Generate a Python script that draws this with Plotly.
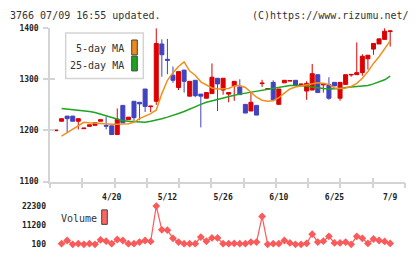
import plotly.graph_objects as go

# ---- data ----
opens = [1199.5, 1218, 1228, 1228, 1218, 1203.5, 1208, 1210, 1218, 1209.5,
         1209, 1192, 1249, 1221, 1257, 1255, 1281, 1246.5, 1257, 1369,
         1339, 1308, 1284, 1318, 1267, 1298, 1271, 1263, 1272, 1302,
         1279, 1271, 1287, 1285, 1251, 1238, 1249, 1291.5, 1280.5, 1294,
         1251, 1293, 1296.5, 1298, 1289.5, 1277, 1279, 1309, 1289, 1290,
         1294, 1263, 1290, 1308.5, 1309, 1313, 1340, 1359, 1369, 1378,
         1393.5]
closes = [1200.5, 1223, 1223, 1218, 1223, 1204.5, 1211, 1215, 1221, 1208.5,
          1192, 1222, 1215, 1226, 1225, 1252, 1247, 1247.5, 1370, 1348,
          1337, 1298, 1315, 1296, 1296, 1268, 1267, 1274, 1304, 1291,
          1302, 1274, 1296, 1270, 1234, 1255, 1230, 1292.5, 1281.5, 1260,
          1281, 1298, 1297.5, 1289, 1290.5, 1292, 1311, 1274, 1292, 1263,
          1287, 1294, 1309, 1309.5, 1313, 1345, 1347, 1370, 1379, 1394,
          1394.5]
highs = [1200.5, 1223, 1228, 1228, 1223, 1204.5, 1211, 1215, 1221, 1227,
         1209, 1243, 1249, 1226, 1257, 1255, 1281, 1247.5, 1400, 1378,
         1379, 1325, 1315, 1318, 1296, 1298, 1271, 1274, 1331, 1302,
         1302, 1274, 1296, 1300, 1251, 1275, 1249, 1299, 1281.5, 1298,
         1281, 1298, 1297.5, 1298, 1290.5, 1296, 1330, 1309, 1292, 1304,
         1294, 1294, 1309, 1309.5, 1372, 1349, 1347, 1370, 1379, 1400,
         1394.5]
lows = [1199.5, 1218, 1196, 1218, 1202, 1203.5, 1208, 1210, 1218, 1202,
        1191, 1192, 1215, 1221, 1219, 1220, 1236, 1236, 1250, 1305,
        1310, 1293, 1279, 1274, 1267, 1265, 1206, 1263, 1272, 1238,
        1270, 1255, 1258, 1270, 1234, 1238, 1230, 1285, 1280.5, 1260,
        1251, 1293, 1296.5, 1289, 1289.5, 1260, 1279, 1274, 1274, 1260,
        1287, 1258, 1290, 1305, 1309, 1307, 1319, 1348, 1369, 1378,
        1364]
ma5 = [None, 1189, 1196, 1203, 1210, 1216, 1215, 1214, 1213, 1212,
       1212, 1212, 1212, 1213, 1216, 1223, 1228, 1233, 1240, 1272,
       1298, 1313, 1325, 1334, 1316, 1308, 1295, 1289, 1283, 1281,
       1281, 1282, 1287, 1288, 1284, 1275, 1265, 1259, 1257, 1258,
       1264, 1273, 1281, 1285, 1287, 1289, 1292, 1293, 1292, 1290,
       1283, 1282, 1283, 1286, 1292, 1302, 1315, 1331, 1344, 1359,
       1375]
ma25 = [None, 1243, 1242, 1240, 1239, 1238, 1237, 1235, 1232, 1229,
        1225, 1222, 1219, 1218, 1217, 1216, 1216, 1218, 1220, 1223,
        1226, 1229, 1233, 1237, 1242, 1247, 1251, 1255, 1258, 1261,
        1264, 1267, 1269, 1271, 1273, 1275, 1277, 1278, 1280, 1282,
        1284, 1286, 1288, 1288, 1288, 1287, 1285, 1283, 1282, 1281,
        1281, 1282, 1284, 1285, 1286, 1287, 1288, 1291, 1295, 1299,
        1306]
volume = [None, 500, 2340, 100, 500, 100, 500, 100, 2700, 1950,
          500, 2900, 2340, 500, 500, 1400, 2340, 1800, 22300, 8500,
          8300, 3600, 1400, 500, 500, 500, 4300, 1900, 3850, 3850,
          500, 500, 660, 500, 500, 1400, 1400, 16300, 100, 500,
          500, 2340, 900, 100, 100, 660, 6000, 1400, 1950, 4750,
          900, 900, 1400, 100, 4750, 3600, 660, 3200, 2340, 1800,
          660]
label_idx = [10, 20, 30, 40, 50, 60]
label_text = ["4/20", "5/12", "5/26", "6/10", "6/25", "7/9"]
price_ticks = [1100, 1200, 1300, 1400]
vol_ticks = [100, 11200, 22300]
vol_tick_text = ["100", "11200", "22300"]

idx = list(range(len(opens)))

# ---- layout helpers (pixel -> paper) ----
W, H = 420, 259
def fx(p):
    return p / W
def fy(p):
    return 1 - p / H

XR = [-1.08, 62.66]
n_grid = 12
grid_vals = [XR[0] + (XR[1] - XR[0]) * k / (n_grid - 1) for k in range(n_grid)]

RED = "#dc0000"
BLUE = "#4044c0"
AXC = "#d4d4d4"
MONO = "DejaVu Sans Mono"

fig = go.Figure()

fig.add_trace(go.Candlestick(
    x=idx, open=opens, high=highs, low=lows, close=closes,
    increasing=dict(line=dict(color=RED, width=1), fillcolor=RED),
    decreasing=dict(line=dict(color=BLUE, width=1), fillcolor=BLUE),
    whiskerwidth=0, showlegend=False, xaxis="x", yaxis="y",
))
fig.add_trace(go.Scatter(x=idx, y=ma25, mode="lines",
                         line=dict(color="#1ea51e", width=1.5),
                         showlegend=False, xaxis="x", yaxis="y", cliponaxis=False))
fig.add_trace(go.Scatter(x=idx, y=ma5, mode="lines",
                         line=dict(color="#f0901c", width=1.5),
                         showlegend=False, xaxis="x", yaxis="y", cliponaxis=False))
fig.add_trace(go.Scatter(x=idx, y=volume, mode="lines+markers",
                         line=dict(color="#fa5a5a", width=1.2),
                         marker=dict(symbol="diamond", size=6, color="#fa5a5a"),
                         showlegend=False, xaxis="x2", yaxis="y2", cliponaxis=False))
# empty helper traces so the overlay axes are drawn
fig.add_trace(go.Scatter(x=[None], y=[None], xaxis="x3", yaxis="y", showlegend=False))
fig.add_trace(go.Scatter(x=[None], y=[None], xaxis="x", yaxis="y3", showlegend=False))
fig.add_trace(go.Scatter(x=[None], y=[None], xaxis="x4", yaxis="y", showlegend=False))

xdom = [fx(50), fx(405)]
tickfont = dict(family=MONO, size=8, color="#222", weight="bold")

fig.update_layout(
    width=W, height=H,
    margin=dict(l=0, r=0, t=0, b=0),
    paper_bgcolor="white", plot_bgcolor="white",
    boxgap=0.1, boxgroupgap=0.2,
    xaxis=dict(domain=xdom, range=XR, anchor="y",
               showgrid=False, zeroline=False, showline=True,
               linecolor=AXC, linewidth=1.5,
               tickmode="array", tickvals=grid_vals, ticks="outside",
               ticklen=5, tickwidth=1.5, tickcolor=AXC,
               showticklabels=False, rangeslider=dict(visible=False)),
    # inside half of the crossing ticks
    xaxis3=dict(overlaying="x", range=XR, anchor="y", side="bottom",
                showgrid=False, zeroline=False, showline=False,
                tickmode="array", tickvals=grid_vals, ticks="inside",
                ticklen=4, tickwidth=1.5, tickcolor=AXC, showticklabels=False),
    # date labels
    xaxis4=dict(overlaying="x", range=XR, anchor="y", side="bottom",
                showgrid=False, zeroline=False, showline=False,
                tickmode="array", tickvals=label_idx, ticktext=label_text,
                ticks="outside", ticklen=8, tickcolor="rgba(0,0,0,0)",
                tickfont=tickfont),
    yaxis=dict(domain=[fy(184), fy(25)], range=[1100, 1400], anchor="x",
               showgrid=False, zeroline=False, showline=True,
               linecolor=AXC, linewidth=1.5,
               tickmode="array", tickvals=price_ticks, ticks="outside",
               ticklen=5, tickwidth=1.5, tickcolor=AXC,
               ticklabelstandoff=3, tickfont=tickfont),
    yaxis3=dict(overlaying="y", range=[1100, 1400], anchor="x", side="left",
                showgrid=False, zeroline=False, showline=False,
                tickmode="array", tickvals=price_ticks, ticks="inside",
                ticklen=5, tickwidth=1.5, tickcolor=AXC, showticklabels=False),
    xaxis2=dict(domain=xdom, range=XR, anchor="y2", visible=False),
    yaxis2=dict(domain=[fy(249), fy(209.3)], range=[100, 22300], anchor="x2",
                showgrid=False, zeroline=False, showline=False,
                tickmode="array", tickvals=vol_ticks, ticktext=vol_tick_text,
                ticks="", ticklabelstandoff=3, tickfont=tickfont),
)

# header texts
fig.add_annotation(x=fx(8), y=fy(12.3), xref="paper", yref="paper",
                   text="3766 07/09 16:55 updated.", showarrow=False,
                   xanchor="left", yanchor="middle",
                   font=dict(family=MONO, size=10, color="#333"))
fig.add_annotation(x=fx(410.5), y=fy(12.3), xref="paper", yref="paper",
                   text="(C)https://www.rizumu.net/", showarrow=False,
                   xanchor="right", yanchor="middle",
                   font=dict(family=MONO, size=10, color="#333"))

# MA legend box
fig.add_shape(type="rect", xref="paper", yref="paper",
              x0=fx(65.7), x1=fx(143.3), y0=fy(77.3), y1=fy(30),
              line=dict(color="#d4d4d4", width=1.5), fillcolor="white", layer="above")
fig.add_annotation(x=fx(125.5), y=fy(46), xref="paper", yref="paper",
                   text="5-day MA", showarrow=False, xanchor="right", yanchor="middle",
                   font=dict(family=MONO, size=10, color="#333"))
fig.add_annotation(x=fx(125.5), y=fy(63.3), xref="paper", yref="paper",
                   text="25-day MA", showarrow=False, xanchor="right", yanchor="middle",
                   font=dict(family=MONO, size=10, color="#333"))
fig.add_shape(type="rect", xref="paper", yref="paper",
              x0=fx(131.7), x1=fx(137.3), y0=fy(52.7), y1=fy(37.3),
              line=dict(color="#444", width=1), fillcolor="#f08a1a", layer="above")
fig.add_shape(type="rect", xref="paper", yref="paper",
              x0=fx(131.7), x1=fx(137.3), y0=fy(69.3), y1=fy(54),
              line=dict(color="#444", width=1), fillcolor="#1aa51a", layer="above")

# Volume legend
fig.add_annotation(x=fx(59), y=fy(222.5), xref="paper", yref="paper",
                   text="Volume", showarrow=False, xanchor="left", yanchor="middle",
                   font=dict(family=MONO, size=10, color="#333"))
fig.add_shape(type="rect", xref="paper", yref="paper",
              x0=fx(101.7), x1=fx(107.3), y0=fy(228.3), y1=fy(213.3),
              line=dict(color="#444", width=1), fillcolor="#ff6464", layer="above")

fig.write_html("out.html")
